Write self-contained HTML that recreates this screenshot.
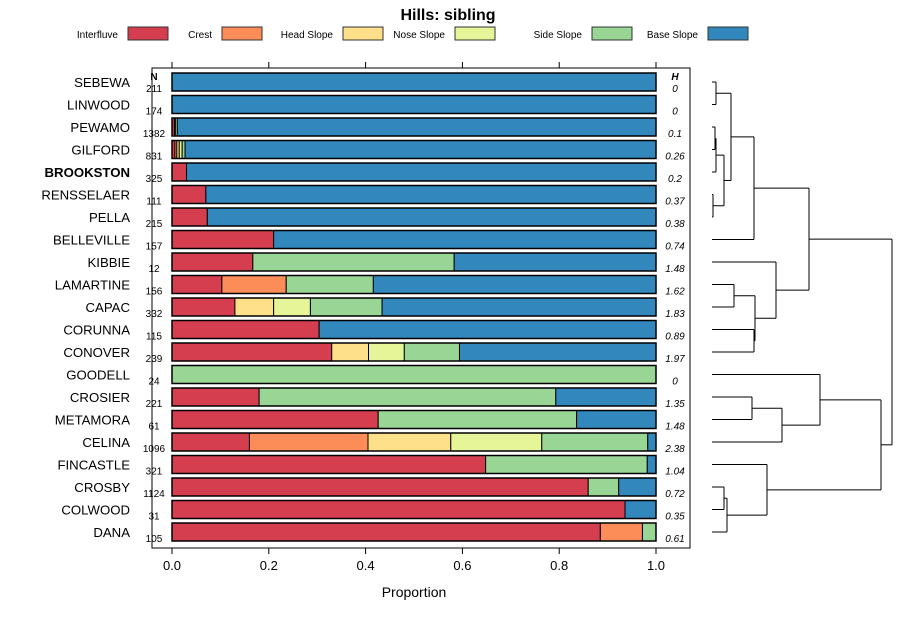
<!DOCTYPE html>
<html><head><meta charset="utf-8"><style>
body{margin:0;background:#fff;}
svg text{font-family:"Liberation Sans",sans-serif;}
</style></head><body>
<svg id="chart" width="900" height="620" xmlns="http://www.w3.org/2000/svg">
<text x="448" y="20" text-anchor="middle" font-size="16" font-weight="bold">Hills: sibling</text>
<g id="legend"></g>
<rect x="152" y="68" width="538" height="480" fill="none" stroke="#000" stroke-width="1"/>
<g id="bars"></g>
<g id="axis"></g>
<g id="dendro" stroke="#000" stroke-width="1" fill="none"></g>
<text x="414" y="597" text-anchor="middle" font-size="14">Proportion</text>
<text x="154" y="80" text-anchor="middle" font-size="10" font-weight="bold">N</text>
<text x="675" y="80" text-anchor="middle" font-size="10" font-weight="bold" font-style="italic">H</text>
</svg>
<script>
const categories=["SEBEWA","LINWOOD","PEWAMO","GILFORD","BROOKSTON","RENSSELAER","PELLA","BELLEVILLE","KIBBIE","LAMARTINE","CAPAC","CORUNNA","CONOVER","GOODELL","CROSIER","METAMORA","CELINA","FINCASTLE","CROSBY","COLWOOD","DANA"];
const seriesNames=["Interfluve","Crest","Head Slope","Nose Slope","Side Slope","Base Slope"];
const interfluve=[0,0,0.005,0.006,0.03,0.07,0.073,0.21,0.167,0.103,0.13,0.304,0.33,0,0.18,0.426,0.16,0.648,0.86,0.936,0.885];
const crest=[0,0,0.002,0.004,0,0,0,0,0,0.133,0,0,0,0,0,0,0.245,0,0,0,0.087];
const headSlope=[0,0,0,0.005,0,0,0,0,0,0,0.08,0,0.076,0,0,0,0.171,0,0,0,0];
const noseSlope=[0,0,0,0.006,0,0,0,0,0,0,0.076,0,0.074,0,0,0,0.188,0,0,0,0];
const sideSlope=[0,0,0.004,0.006,0,0,0,0,0.416,0.18,0.148,0,0.114,1,0.613,0.41,0.219,0.334,0.063,0,0.028];
const baseSlope=[1,1,0.989,0.973,0.97,0.93,0.927,0.79,0.417,0.584,0.566,0.696,0.406,0,0.207,0.164,0.017,0.018,0.077,0.064,0];
const nValues=["211","174","1382","831","325","111","215","157","12","156","332","115","239","24","221","61","1096","321","1124","31","105"];
const hValues=["0","0","0.1","0.26","0.2","0.37","0.38","0.74","1.48","1.62","1.83","0.89","1.97","0","1.35","1.48","2.38","1.04","0.72","0.35","0.61"];
const xTicks=[0,0.2,0.4,0.6,0.8,1.0];
const xTickLabels=["0.0","0.2","0.4","0.6","0.8","1.0"];
const colors=["#d53e4f","#fc8d59","#fee08b","#e6f598","#99d594","#3288bd"];
const NS="http://www.w3.org/2000/svg";
const xS=v=>172+v*484;
const yS=i=>82+i*22.5;
function mk(t,a,p){const e=document.createElementNS(NS,t);for(const k in a)e.setAttribute(k,a[k]);p.appendChild(e);return e;}
const series=[interfluve,crest,headSlope,noseSlope,sideSlope,baseSlope];
const bars=document.getElementById('bars');
categories.forEach((c,i)=>{
  const y=yS(i);
  let cum=0;
  series.forEach((s,j)=>{
    const v=s[i];
    if(v>0){
      const r=mk('rect',{x:xS(cum),y:y-9,width:v*484,height:18,fill:colors[j],stroke:'#000','stroke-width':1},bars);
      
      
    }
    cum+=v;
  });
  const o=mk('rect',{x:xS(0),y:y-9,width:484,height:18,fill:'none',stroke:'#000','stroke-width':1.5},bars);
  
  
  const l=mk('text',{x:130,y:y+5,'text-anchor':'end','font-size':13.2,'font-weight':c==='BROOKSTON'?'bold':'normal'},bars);
  l.textContent=c;
  
  
  const n=mk('text',{x:154,y:y+10,'text-anchor':'middle','font-size':10},bars);
  n.textContent=nValues[i];
  
  
  const h=mk('text',{x:675,y:y+10,'text-anchor':'middle','font-size':10,'font-style':'italic'},bars);
  h.textContent=hValues[i];
  
  
});
const ax=document.getElementById('axis');
xTicks.forEach((t,i)=>{
  const x=xS(t);
  const a=mk('line',{x1:x,x2:x,y1:548,y2:554,stroke:'#000'},ax);
  
  
  const b=mk('line',{x1:x,x2:x,y1:62,y2:68,stroke:'#000'},ax);
  
  
  const tx=mk('text',{x:x,y:570,'text-anchor':'middle','font-size':13},ax);
  tx.textContent=xTickLabels[i];
  
  
});
const leg=document.getElementById('legend');
const legBox=[128,222,343,455,592,708];
seriesNames.forEach((s,j)=>{
  const t=mk('text',{x:legBox[j]-10,y:38,'text-anchor':'end','font-size':10},leg);
  t.textContent=s;
  
  
  const r=mk('rect',{x:legBox[j],y:27,width:40,height:13,fill:colors[j],stroke:'#333'},leg);
  
  
});
const leafX=712;
const dg=document.getElementById('dendro');
function seg(x1,y1,x2,y2){mk('line',{x1,y1,x2,y2},dg);}
function join(a,b,x){
  seg(a[0],a[1],x,a[1]);seg(b[0],b[1],x,b[1]);seg(x,a[1],x,b[1]);return [x,(a[1]+b[1])/2];}
const L=i=>[leafX,yS(i)];
const n01=join(L(0),L(1),716);
const n23=join(L(2),L(3),715);
const n234=join([716,yS(2.5)],L(4),716);
const n56=join(L(5),L(6),713);
const nA=join(n234,n56,724);
const nB=join(n01,nA,731);
const nC=join(nB,L(7),754);
const n910=join(L(9),L(10),734);
const n1112=join(L(11),L(12),754);
const nD=join(n910,n1112,755);
const nE=join(L(8),nD,776);
const nF=join(nC,nE,809);
const n1415=join(L(14),L(15),752);
const nG=join(n1415,L(16),782);
const nH=join(L(13),nG,820);
const n1819=join(L(18),L(19),724);
const nI=join(n1819,L(20),727);
const nJ=join(L(17),nI,767);
const nK=join(nH,nJ,881);
join(nF,nK,892);
</script>
</body></html>
